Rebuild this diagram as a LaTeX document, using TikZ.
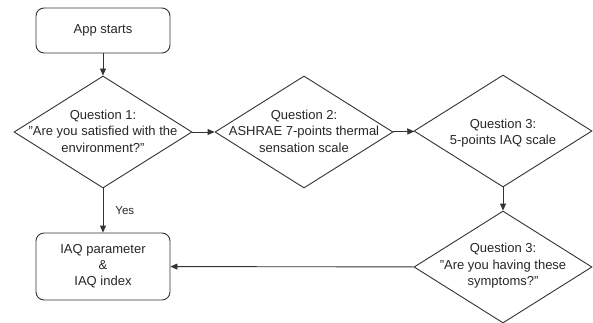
\documentclass[tikz,border=0pt]{standalone}
\usepackage{fontspec}
\setmainfont{Liberation Sans}
\usetikzlibrary{shapes.geometric,arrows.meta}
\begin{document}
\begin{tikzpicture}[x=1pt,y=-1pt,
  line width=0.9pt,
  every node/.style={text=black!85},
  box/.style={draw=black!80,rounded corners=8pt,minimum width=134pt,minimum height=45pt,inner sep=0pt,font=\fontsize{13}{16}\selectfont,align=center},
  dia/.style={draw=black!80,diamond,minimum width=178pt,minimum height=112pt,inner sep=0pt},
  dtext/.style={font=\fontsize{13}{16.5}\selectfont,align=center,inner sep=0pt},
  conn/.style={draw=black!80,-{Triangle[length=7pt,width=6pt]}}]
\useasboundingbox (0,0) rectangle (593,322);
\node[box] (start) at (103,30.5) {App starts};
\node[dia] (q1) at (103,132) {};
\node[dtext] (q1t) at (103,131) {Question 1:\\"Are you satisfied with the\\environment?"};
\node[dia] (q2) at (304,132) {};
\node[dtext] (q2t) at (304,131) {Question 2:\\ASHRAE 7-points thermal\\sensation scale};
\node[dia] (q3) at (503,131) {};
\node[dtext] (q3t) at (503,133) {Question 3:\\5-points IAQ scale};
\node[dia] (q4) at (503,267) {};
\node[dtext] (q4t) at (503,266) {Question 3:\\"Are you having these\\symptoms?"};
\node[box,minimum height=67pt] (iaq) at (103,266.5) {IAQ parameter\\\&\\IAQ index};
\draw[conn] (start) -- (q1);
\draw[conn] (q1) -- (q2);
\draw[conn] (q2) -- (q3);
\draw[conn] (q3) -- (q4);
\draw[conn] (q4) -- (iaq);
\draw[conn] (q1) -- node[right=12pt,dtext,font=\fontsize{11.5}{13}\selectfont,pos=0.5] (yes) {Yes} (iaq);
\end{tikzpicture}
\end{document}
